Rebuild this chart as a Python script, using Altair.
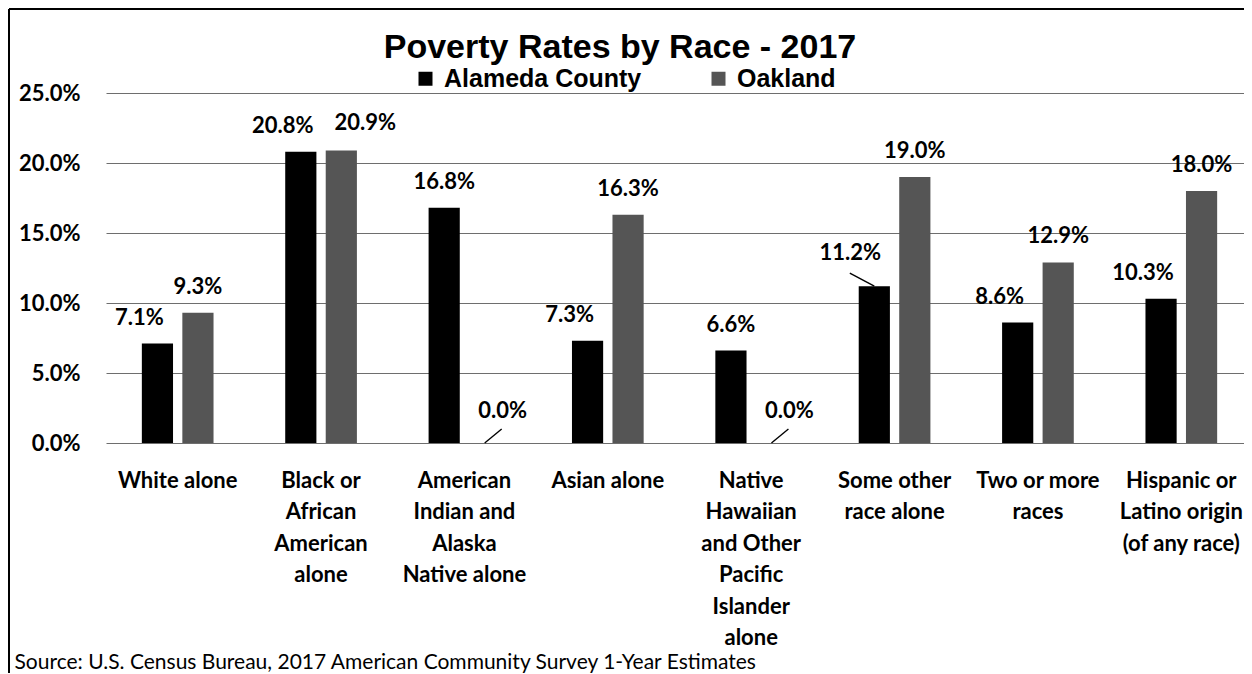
import altair as alt
import pandas as pd

categories = [
    "White alone",
    "Black or\nAfrican\nAmerican\nalone",
    "American\nIndian and\nAlaska\nNative alone",
    "Asian alone",
    "Native\nHawaiian\nand Other\nPacific\nIslander\nalone",
    "Some other\nrace alone",
    "Two or more\nraces",
    "Hispanic or\nLatino origin\n(of any race)",
]
series_names = ["Alameda County", "Oakland"]
alameda = [7.1, 20.8, 16.8, 7.3, 6.6, 11.2, 8.6, 10.3]
oakland = [9.3, 20.9, 0.0, 16.3, 0.0, 19.0, 12.9, 18.0]
y_ticks = [0, 5, 10, 15, 20, 25]
bar_colors = ["#000000", "#555555"]
title_text = "Poverty Rates by Race - 2017"
source_text = "Source: U.S. Census Bureau, 2017 American Community Survey 1-Year Estimates"

rows = []
for c, a, o in zip(categories, alameda, oakland):
    rows.append({"cat": c, "series": series_names[0], "value": a, "ala": a, "oak": o})
    rows.append({"cat": c, "series": series_names[1], "value": o, "ala": a, "oak": o})
df = pd.DataFrame(rows)

LABEL_FONT = "Lato"

x_enc = alt.X(
    "cat:N",
    sort=categories,
    scale=alt.Scale(range=[0, 1147], paddingInner=0.5, paddingOuter=0.25),
    axis=alt.Axis(
        labelExpr="split(datum.label, '\\n')",
        labelAngle=0,
        labelFont=LABEL_FONT,
        labelFontSize=22,
        labelFontWeight="bold",
        labelColor="black",
        labelLineHeight=31.5,
        labelPadding=27,
        labelLimit=0,
        labelOverlap=False,
        ticks=False,
        domain=False,
        title=source_text,
        titleFont=LABEL_FONT,
        titleFontSize=21,
        titleFontWeight="normal",
        titleColor="black",
        titleAnchor="start",
        titleAlign="left",
        titleBaseline="alphabetic",
        titleX=-92,
        titleY=225,
    ),
)
xoff_enc = alt.XOffset(
    "series:N",
    sort=series_names,
    scale=alt.Scale(domain=series_names, paddingInner=0.23, paddingOuter=0),
)
y_enc = alt.Y(
    "value:Q",
    scale=alt.Scale(domain=[0, 25], nice=False, zero=True),
    axis=alt.Axis(
        values=y_ticks,
        labelExpr="format(datum.value, '.1f') + '%'",
        labelFont=LABEL_FONT,
        labelFontSize=22,
        labelFontWeight="bold",
        labelColor="black",
        labelPadding=26,
        ticks=False,
        domain=False,
        grid=True,
        gridColor="#6e6e6e",
        gridWidth=1,
        title=None,
    ),
)

base = alt.Chart(df)

bars = base.mark_bar().encode(
    x=x_enc,
    xOffset=xoff_enc,
    y=y_enc,
    color=alt.Color(
        "series:N",
        sort=series_names,
        scale=alt.Scale(domain=series_names, range=bar_colors),
        legend=alt.Legend(
            title=None,
            orient="none",
            legendX=307,
            legendY=-27,
            direction="horizontal",
            labelFont="Liberation Sans",
            labelFontSize=25,
            labelFontWeight="bold",
            labelColor="black",
            labelLimit=400,
            symbolType="square",
            symbolSize=196,
            symbolStrokeWidth=0,
            symbolOpacity=1,
            labelOffset=6,
            columnPadding=64,
            padding=0,
        ),
    ),
)


def value_labels(cond, dx, dy):
    return (
        base.transform_calculate(label="format(datum.value, '.1f') + '%'")
        .transform_filter(cond)
        .mark_text(
            font=LABEL_FONT,
            fontSize=22,
            fontWeight="bold",
            color="black",
            baseline="middle",
            align="center",
            dx=dx,
            dy=dy,
        )
        .encode(x=x_enc, xOffset=xoff_enc, y=y_enc, text="label:N")
    )


ala_q = "datum.series == 'Alameda County'"
oak_q = "datum.series == 'Oakland'"
some_other = "datum.cat == 'Some other\\nrace alone'"

lab_ala = value_labels(f"{ala_q} && datum.oak > 0 && !({some_other})", -18, -26)
lab_ala_alone = value_labels(f"{ala_q} && datum.oak == 0", 0, -26)
lab_ala_moved = value_labels(f"{ala_q} && {some_other}", -24, -33)
lab_oak = value_labels(f"{oak_q} && datum.value > 0 && abs(datum.oak - datum.ala) >= 1", 0, -26)
lab_oak_close = value_labels(f"{oak_q} && abs(datum.oak - datum.ala) < 1", 24, -27)
lab_oak_zero = value_labels(f"{oak_q} && datum.value == 0", 18, -32)

leader_zero = (
    base.transform_filter(f"{oak_q} && datum.value == 0")
    .mark_point(shape="M0,0L1,-0.82", size=1156, filled=False, color="black",
                strokeWidth=1.4, opacity=1)
    .encode(x=x_enc, xOffset=xoff_enc, y=y_enc)
)
leader_moved = (
    base.transform_filter(f"{ala_q} && {some_other}")
    .mark_point(shape="M0,0L-1,-0.53", size=2401, filled=False, color="black",
                strokeWidth=1.4, opacity=1)
    .encode(x=x_enc, xOffset=xoff_enc, y=y_enc)
)

frame_data = alt.Chart(pd.DataFrame({"f": [0]}))
frame_left = frame_data.mark_rule(color="black", strokeWidth=2).encode(
    x=alt.value(-97), y=alt.value(-84), y2=alt.value(600)
)
frame_top = frame_data.mark_rule(color="black", strokeWidth=2).encode(
    x=alt.value(-97), x2=alt.value(1200), y=alt.value(-84)
)

chart = (
    alt.layer(
        bars, lab_ala, lab_ala_alone, lab_ala_moved, lab_oak, lab_oak_close,
        lab_oak_zero, leader_zero, leader_moved, frame_left, frame_top,
    )
    .properties(
        width=1138,
        height=350,
        autosize=alt.AutoSizeParams(type="none"),
        padding={"left": 98, "top": 85, "right": 0, "bottom": 230},
        title=alt.TitleParams(
            title_text,
            font="Liberation Sans",
            fontSize=34,
            fontWeight="bold",
            color="black",
            anchor="middle",
            frame="group",
            dx=-55,
            baseline="alphabetic",
            offset=-84,
        ),
    )
    .configure_view(stroke=None)
)

chart.save("out.html", embed_options={"renderer": "svg", "actions": False})
